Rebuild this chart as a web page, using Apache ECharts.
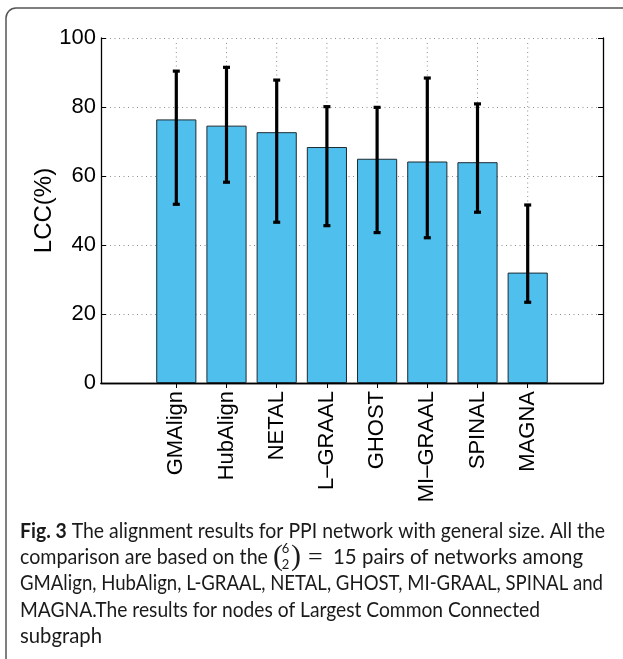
<!DOCTYPE html>
<html>
<head>
<meta charset="utf-8">
<script src="https://cdn.jsdelivr.net/npm/echarts@6/dist/echarts.min.js"></script>
<style>
  html, body { margin: 0; padding: 0; background: #ffffff; }
  #chart { width: 623px; height: 659px; }
</style>
</head>
<body>
<div id="chart"></div>
<script>
// Aligners compared, mean LCC (%) and the extent of each error bar
const methods = ['GMAlign', 'HubAlign', 'NETAL', 'L\u2013GRAAL', 'GHOST', 'MI\u2013GRAAL', 'SPINAL', 'MAGNA'];
const lccMean = [76.4, 74.6, 72.7, 68.4, 65.0, 64.2, 64.0, 32.0];
const lccLow  = [51.8, 58.2, 46.6, 45.6, 43.6, 42.1, 49.5, 23.4];
const lccHigh = [90.4, 91.5, 87.8, 80.1, 79.9, 88.4, 80.9, 51.6];
const yTicks  = [0, 20, 40, 60, 80, 100];

// Caption text, one entry per printed line
const captionBold = 'Fig. 3';
const captionLine1 = ' The alignment results for PPI network with general size. All the';
const captionLine2a = 'comparison are based on the';
const captionLine2b = '15 pairs of networks among';
const captionLine3 = 'GMAlign, HubAlign, L-GRAAL, NETAL, GHOST, MI-GRAAL, SPINAL and';
const captionLine4 = 'MAGNA.The results for nodes of Largest Common Connected';
const captionLine5 = 'subgraph';

// One empty slot at each end of the category axis
const slots = [''].concat(methods, [' ']);
const barValues = [null].concat(lccMean, [null]);
const isMethodSlot = (i) => i > 0 && i < slots.length - 1;

const axisFont = "'Liberation Sans', Arial, Helvetica, sans-serif";
const capFamily = 'Lato';
const capSize = 21;
const capFont = capSize + 'px ' + capFamily;
const capBoldFont = 'bold ' + capFont;

// Each caption line is condensed horizontally to fill its measured span
const measureCtx = document.createElement('canvas').getContext('2d');
function textWidth(str, font) { measureCtx.font = font; return measureCtx.measureText(str).width; }
const capX = 20;
const capBase = [537.5, 564, 590, 616.5, 643];
const capMid = (b) => b - 0.3 * capSize;
const fitScale = (w, x0, x1) => (x1 - x0) / w;

const scale1 = fitScale(textWidth(captionBold, capBoldFont) + textWidth(captionLine1, capFont), capX, 605);
const scale2a = fitScale(textWidth(captionLine2a, capFont), capX, 268);
const line2bX = 333;
const scale2b = fitScale(textWidth(captionLine2b, capFont), line2bX, 583);
const scale3 = fitScale(textWidth(captionLine3, capFont), capX, 603);
const scale4 = fitScale(textWidth(captionLine4, capFont), capX, 540);
const scale5 = fitScale(textWidth(captionLine5, capFont), capX, 102);
const line2End = 268;

const chart = echarts.init(document.getElementById('chart'), null, { renderer: 'canvas' });

const gridLine = { color: '#8c8c8c', width: 1, type: [1, 3.5] };
const textFill = '#1a1a1a';

function captionText(x, base, scale, text, extra) {
  return {
    type: 'text', x: x, y: capMid(base), scaleX: scale, silent: true,
    style: Object.assign({ text: text, fontFamily: capFamily, fontSize: capSize, fill: textFill, verticalAlign: 'middle' }, extra || {})
  };
}

const option = {
  backgroundColor: '#ffffff',
  animation: false,
  grid: { left: 101, right: 20, top: 38, bottom: 276, containLabel: false },
  xAxis: [
    {
      type: 'category',
      data: slots,
      position: 'bottom',
      boundaryGap: true,
      axisLine: { show: true, lineStyle: { color: '#000', width: 1.3 } },
      axisTick: { show: true, inside: true, length: 5, alignWithLabel: true, interval: isMethodSlot, lineStyle: { color: '#000' } },
      axisLabel: { show: true, rotate: 90, interval: 0, margin: 8, fontSize: 22, fontFamily: axisFont, color: '#000' },
      splitLine: { show: false }
    },
    {
      type: 'category',
      data: slots,
      position: 'top',
      boundaryGap: true,
      axisLine: { show: true, lineStyle: { color: '#000', width: 1.3 } },
      axisTick: { show: true, inside: true, length: 5, alignWithLabel: true, interval: isMethodSlot, lineStyle: { color: '#000' } },
      axisLabel: { show: false },
      splitLine: { show: false }
    }
  ],
  yAxis: [
    {
      type: 'value',
      min: yTicks[0],
      max: yTicks[yTicks.length - 1],
      interval: yTicks[1] - yTicks[0],
      position: 'left',
      name: 'LCC(%)',
      nameLocation: 'middle',
      nameRotate: 90,
      nameGap: 45,
      nameMoveOverlap: false,
      nameTextStyle: { fontSize: 24, fontFamily: axisFont, color: '#000' },
      axisLine: { show: true, lineStyle: { color: '#000', width: 1.3 } },
      axisTick: { show: true, inside: true, length: 5, lineStyle: { color: '#000' } },
      axisLabel: { show: true, margin: 5, fontSize: 22, fontFamily: axisFont, color: '#000' },
      splitLine: { show: true, lineStyle: gridLine }
    },
    {
      type: 'value',
      min: yTicks[0],
      max: yTicks[yTicks.length - 1],
      interval: yTicks[1] - yTicks[0],
      position: 'right',
      axisLine: { show: true, lineStyle: { color: '#000', width: 1.3 } },
      axisTick: { show: true, inside: true, length: 5, lineStyle: { color: '#000' } },
      axisLabel: { show: false },
      splitLine: { show: false }
    }
  ],
  series: [
    {
      // Dotted vertical grid lines through each category centre
      name: 'xgrid',
      type: 'custom',
      xAxisIndex: 0,
      yAxisIndex: 0,
      data: methods.map((m) => [m]),
      encode: { x: 0 },
      silent: true,
      z: 1,
      renderItem: function (params, api) {
        const x = api.value(0);
        const top = api.coord([x, yTicks[yTicks.length - 1]]);
        const bottom = api.coord([x, yTicks[0]]);
        return {
          type: 'line',
          shape: { x1: top[0], y1: top[1] + 5, x2: bottom[0], y2: bottom[1] },
          style: { stroke: gridLine.color, lineWidth: 1, lineDash: gridLine.type }
        };
      }
    },
    {
      name: 'LCC',
      type: 'bar',
      xAxisIndex: 0,
      yAxisIndex: 0,
      data: barValues,
      barWidth: '80%',
      itemStyle: { color: '#4fbfee', borderColor: '#1b2b33', borderWidth: 1 },
      z: 3
    },
    {
      name: 'range',
      type: 'custom',
      xAxisIndex: 0,
      yAxisIndex: 0,
      data: methods.map((m, i) => [m, lccLow[i], lccHigh[i]]),
      encode: { x: 0, y: [1, 2] },
      z: 4,
      renderItem: function (params, api) {
        const x = api.value(0);
        const lo = api.coord([x, api.value(1)]);
        const hi = api.coord([x, api.value(2)]);
        const cap = 3.5;
        const st = { stroke: '#000', lineWidth: 3.2 };
        return {
          type: 'group',
          children: [
            { type: 'line', shape: { x1: lo[0], y1: lo[1], x2: hi[0], y2: hi[1] }, style: st },
            { type: 'line', shape: { x1: lo[0] - cap, y1: lo[1], x2: lo[0] + cap, y2: lo[1] }, style: st },
            { type: 'line', shape: { x1: hi[0] - cap, y1: hi[1], x2: hi[0] + cap, y2: hi[1] }, style: st }
          ]
        };
      }
    }
  ],
  graphic: [
    // Rounded frame around the figure and its caption
    {
      type: 'rect',
      shape: { x: 6, y: 8, width: 720, height: 720, r: 10 },
      style: { fill: null, stroke: '#555', lineWidth: 1.5 },
      silent: true
    },
    captionText(capX, capBase[0], scale1, '{b|' + captionBold + '}' + captionLine1, {
      rich: { b: { fontWeight: 'bold', fontFamily: capFamily, fontSize: capSize, fill: textFill } }
    }),
    captionText(capX, capBase[1], scale2a, captionLine2a),
    // Binomial coefficient (6 choose 2)
    {
      type: 'text', x: line2End + 5, y: capBase[1] - 7, silent: true,
      style: { text: '(', fontFamily: "'Liberation Serif', serif", fontSize: 30, fill: textFill, verticalAlign: 'middle', align: 'left' }
    },
    {
      type: 'text', x: line2End + 17.5, y: capBase[1] - 15, silent: true,
      style: { text: '6', fontFamily: capFamily, fontSize: 13, fill: textFill, verticalAlign: 'middle', align: 'center' }
    },
    {
      type: 'text', x: line2End + 17.5, y: capBase[1] + 1, silent: true,
      style: { text: '2', fontFamily: capFamily, fontSize: 13, fill: textFill, verticalAlign: 'middle', align: 'center' }
    },
    {
      type: 'text', x: line2End + 23, y: capBase[1] - 7, silent: true,
      style: { text: ')', fontFamily: "'Liberation Serif', serif", fontSize: 30, fill: textFill, verticalAlign: 'middle', align: 'left' }
    },
    {
      type: 'text', x: line2End + 40, y: capBase[1] - 6, silent: true,
      style: { text: '=', fontFamily: "'Liberation Serif', serif", fontSize: 26, fill: textFill, verticalAlign: 'middle', align: 'left' }
    },
    captionText(line2bX, capBase[1], scale2b, captionLine2b),
    captionText(capX, capBase[2], scale3, captionLine3),
    captionText(capX, capBase[3], scale4, captionLine4),
    captionText(capX, capBase[4], scale5, captionLine5)
  ]
};

chart.setOption(option);
</script>
</body>
</html>
